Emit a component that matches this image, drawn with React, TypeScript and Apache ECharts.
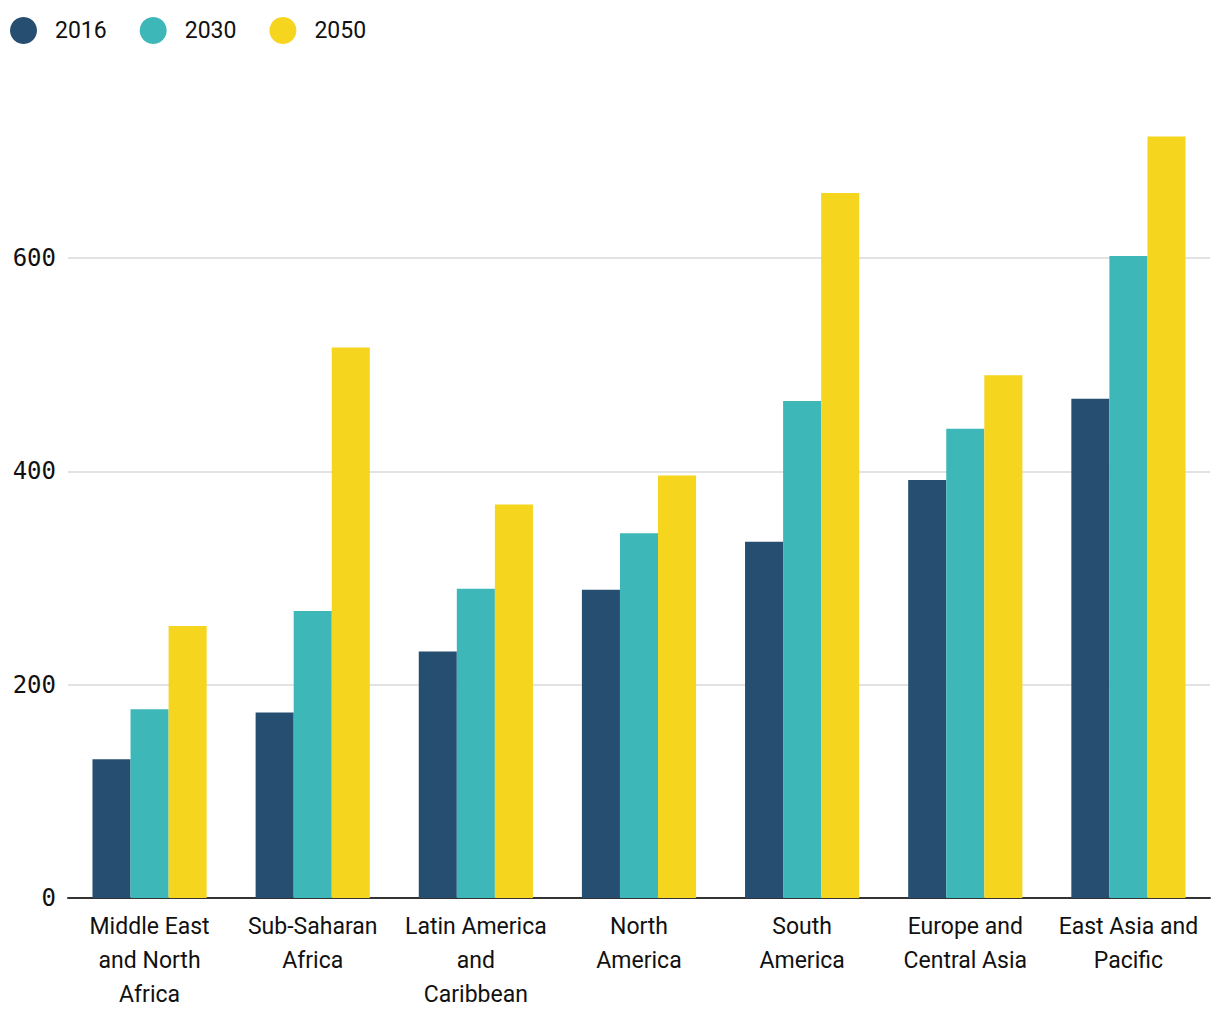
import React, { useEffect, useRef } from "react";
import * as echarts from "echarts";

const categories = [
  "Middle East\nand North\nAfrica",
  "Sub-Saharan\nAfrica",
  "Latin America\nand\nCaribbean",
  "North\nAmerica",
  "South\nAmerica",
  "Europe and\nCentral Asia",
  "East Asia and\nPacific",
];
const seriesNames = ["2016", "2030", "2050"];
const values2016 = [130, 174, 231, 289, 334, 392, 468];
const values2030 = [177, 269, 290, 342, 466, 440, 602];
const values2050 = [255, 516, 369, 396, 661, 490, 714];
const colors = ["#264e70", "#3db7b8", "#f5d51d"];

export default function App() {
  const ref = useRef<HTMLDivElement>(null);
  useEffect(() => {
    const chart = echarts.init(ref.current!, undefined, { renderer: "svg" });
    const data = [values2016, values2030, values2050];
    chart.setOption({
      animation: false,
      color: colors,
      legend: {
        left: 5,
        top: 12,
        icon: "circle",
        itemWidth: 27,
        itemHeight: 27,
        itemGap: 33,
        textStyle: {
          fontFamily: "Roboto",
          fontSize: 23,
          color: "#111",
          padding: [0, 0, 0, 13],
        },
        data: seriesNames,
      },
      grid: { left: 68, right: 10, top: 44.7, bottom: 122, containLabel: false },
      xAxis: {
        type: "category",
        data: categories,
        axisLine: { lineStyle: { color: "#333", width: 2 } },
        axisTick: { show: false },
        axisLabel: {
          fontFamily: "Roboto",
          fontSize: 23,
          color: "#111",
          lineHeight: 34,
          margin: 11,
          interval: 0,
        },
      },
      yAxis: {
        type: "value",
        min: 0,
        max: 800,
        interval: 200,
        axisLine: { show: false },
        axisTick: { show: false },
        splitLine: { showMaxLine: false, lineStyle: { color: "#e3e3e3", width: 2 } },
        axisLabel: {
          showMaxLabel: false,
          fontFamily: "DejaVu Sans Mono",
          fontSize: 24,
          color: "#111",
          margin: 12,
        },
      },
      series: seriesNames.map((name, i) => ({
        name,
        type: "bar",
        data: data[i],
        barGap: "0%",
        barCategoryGap: "30%",
        itemStyle: { color: colors[i] },
      })),
    });
    return () => chart.dispose();
  }, []);
  return (
    <div
      ref={ref}
      style={{ position: "fixed", left: 0, top: 0, width: 1220, height: 1020, background: "#fff" }}
    />
  );
}
